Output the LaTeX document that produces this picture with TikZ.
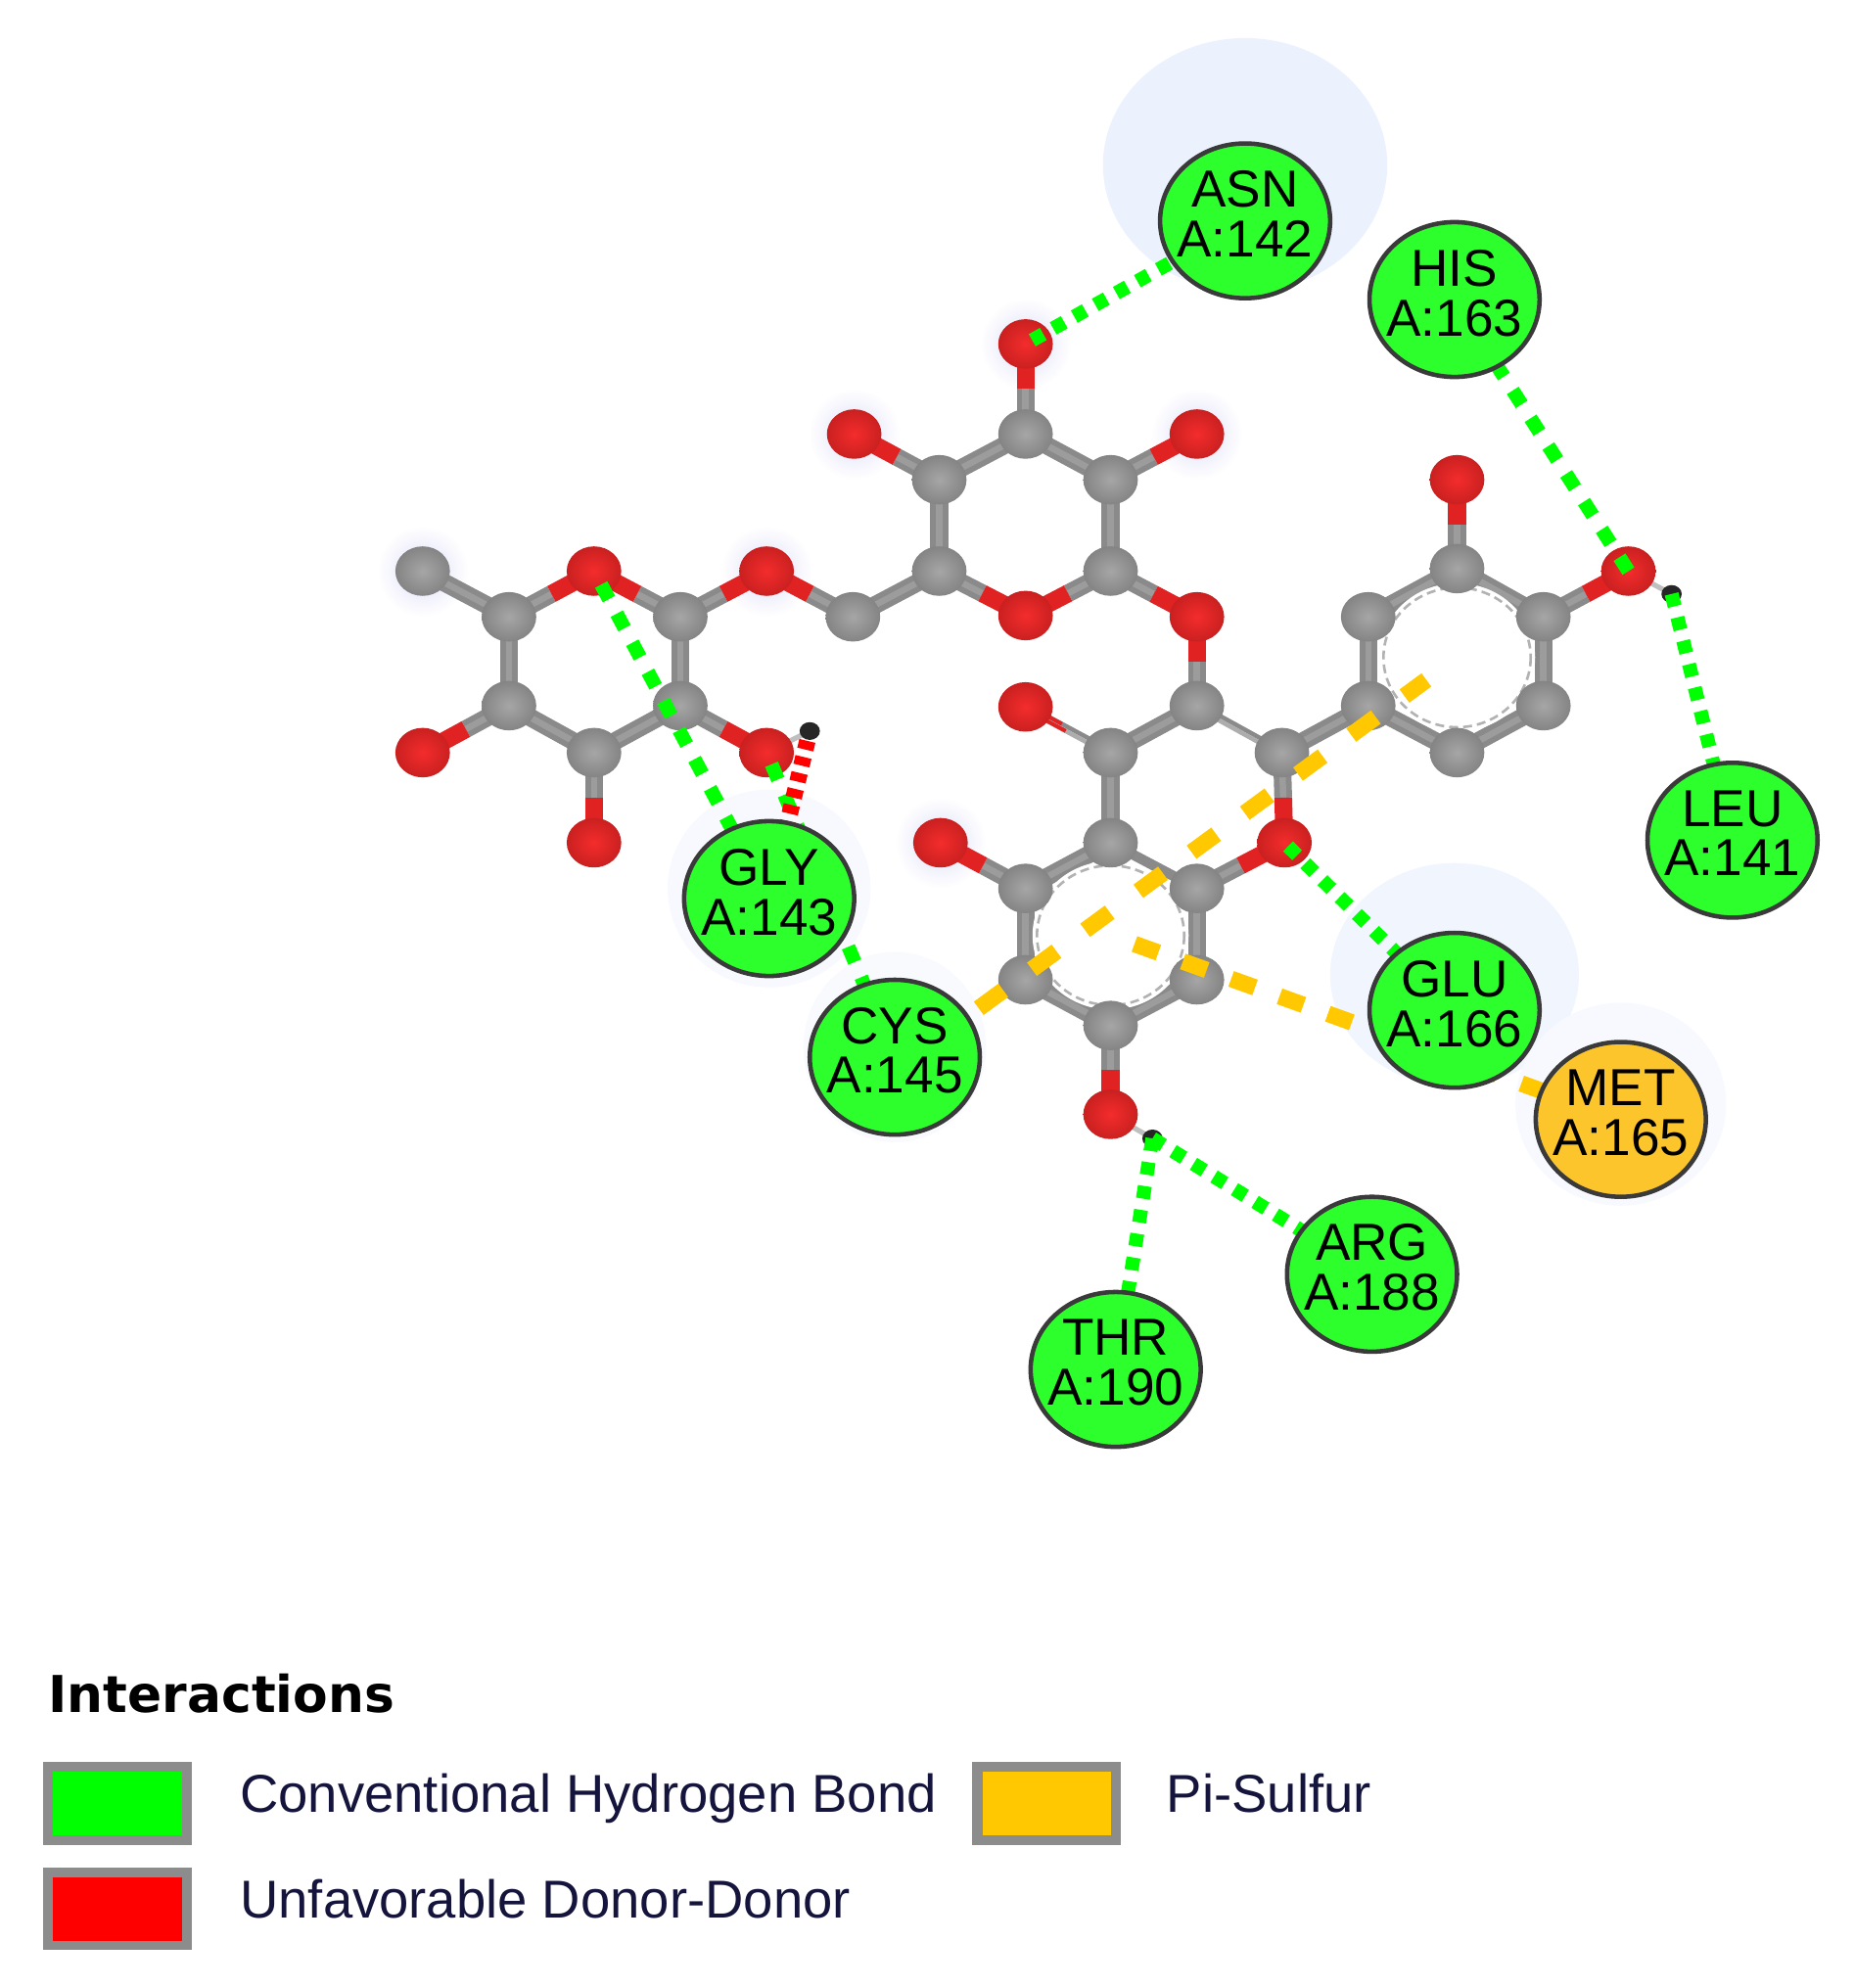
\documentclass[tikz,border=0pt]{standalone}
\usepackage{fontspec}
\setmainfont{Liberation Sans}
\newfontfamily\titlefont{DejaVu Sans}
\usetikzlibrary{shapes.geometric,calc}
\pgfdeclarelayer{halolayer}
\pgfdeclarelayer{bondlayer}
\pgfdeclarelayer{dashlayer}
\pgfdeclarelayer{reslayer}
\pgfsetlayers{halolayer,bondlayer,main,dashlayer,reslayer}
\definecolor{resgreen}{HTML}{2DFF2D}
\definecolor{resgold}{HTML}{FCC52C}
\definecolor{rim}{HTML}{3A3A3A}
\definecolor{bondgrey}{HTML}{8A8A8A}
\definecolor{bondlight}{HTML}{9C9C9C}
\definecolor{bondred}{HTML}{E02222}
\definecolor{legendgrey}{HTML}{8C8C8C}
\definecolor{legendtext}{HTML}{14143C}
\definecolor{hbgreen}{HTML}{00FF00}
\definecolor{sulfur}{HTML}{FFC800}
\definecolor{HTMLgreyA}{HTML}{A6A6A6}
\definecolor{HTMLgreyB}{HTML}{848484}
\definecolor{HTMLredA}{HTML}{F42C2C}
\definecolor{HTMLredB}{HTML}{CA2020}
\definecolor{glowblue}{HTML}{DEDEF8}
\tikzset{
  atomC/.style={ellipse,inner sep=0pt,minimum width=43,minimum height=39,shading=radial,inner color=HTMLgreyA,outer color=HTMLgreyB},
  atomO/.style={ellipse,inner sep=0pt,minimum width=43,minimum height=39,shading=radial,inner color=HTMLredA,outer color=HTMLredB},
  atomH/.style={ellipse,inner sep=0pt,minimum width=16,minimum height=14,fill=black!85},
  residue/.style={ellipse,inner sep=0pt,minimum width=134,minimum height=122,draw=rim,line width=3.5,fill=resgreen,text=black,font=\fontsize{41}{36}\selectfont},
  hbond/.style={draw=hbgreen,line width=11,dash pattern=on 10 off 9},
  hbondwide/.style={draw=hbgreen,line width=11,dash pattern=on 13 off 13},
  ddbond/.style={draw=red,line width=13,dash pattern=on 7 off 6},
  pisbond/.style={draw=sulfur,line width=13,dash pattern=on 24 off 28},
  pisbondb/.style={draw=sulfur,line width=13,dash pattern=on 20 off 20.5},
  glow/.style={circle,inner sep=0pt,minimum size=72,shading=radial,inner color=glowblue,outer color=white},
  ringcircle/.style={draw=white,line width=7},
  ringdash/.style={draw=black!30,line width=2,dash pattern=on 7 off 4},
  legendbox/.style={fill=legendgrey,inner sep=0pt},
  legendfill/.style={inner sep=0pt},
  legendlabel/.style={anchor=base west,inner sep=0pt,text=legendtext,font=\fontsize{42}{42}\selectfont},
}
\newcommand{\reslabel}[2]{\raisebox{1.5pt}{\makebox[0pt]{\begin{tabular}{@{}c@{}}#1\\#2\end{tabular}}}}
\newcommand{\ccbond}[2]{\draw[bondgrey,line width=14] (#1.center) -- (#2.center);\draw[bondlight,line width=5] (#1.center) -- (#2.center);}
\newcommand{\cobond}[2]{%
  \draw[bondgrey,line width=14] (#1.center) -- ($(#1.center)!0.5!(#2.center)$);\draw[bondlight,line width=5] (#1.center) -- ($(#1.center)!0.5!(#2.center)$);%
  \draw[bondred,line width=14] ($(#1.center)!0.5!(#2.center)$) -- (#2.center);}
\newcommand{\dblbond}[2]{\draw[bondgrey,line width=3.5,transform canvas={shift={(-1.5,-2.8)}}] (#1.center) -- (#2.center);\draw[bondgrey!70,line width=3.5,transform canvas={shift={(1.5,2.8)}}] (#1.center) -- (#2.center);}
\begin{document}
\begin{tikzpicture}[x=1pt,y=-1pt]
\useasboundingbox (0,0) rectangle (1460,1566.4);
% halos
\begin{pgfonlayer}{halolayer}
\node[ellipse,minimum width=224,minimum height=200,fill={rgb,255:red,235;green,241;blue,253}] (haloASN) at (981,130) {};
\node[ellipse,minimum width=196,minimum height=176,fill={rgb,255:red,240;green,245;blue,254}] (haloGLU) at (1146,768) {};
\node[ellipse,minimum width=166,minimum height=160,fill={rgb,255:red,247;green,249;blue,254}] (haloMET) at (1277,870) {};
\node[ellipse,minimum width=160,minimum height=156,fill={rgb,255:red,247;green,249;blue,254}] (haloGLY) at (606,700) {};
\node[ellipse,minimum width=144,minimum height=150,fill={rgb,255:red,249;green,250;blue,254}] (haloCYS) at (705,825) {};
\node[glow] (g1) at (673,342) {};
\node[glow] (g2) at (943,342) {};
\node[glow] (g3) at (333,450) {};
\node[glow] (g4) at (741,664) {};
\node[glow] (g5) at (808,271) {};
\node[glow] (g6) at (604,450) {};
\end{pgfonlayer}
% atoms
\foreach \n/\x/\y in {ca/333/450,cb/401/486,cc/536/486,cd/672/486,ce/740/450,cf/875/450,cg/875/378,ch/808/342,ci/740/378,
  cj/401/556,ck/468/593,cl/536/556,
  cm/943/556,cn/875/593,co/1010/593,cp/875/664,cq/943/700,cr/808/700,cs/808/772,ct/943/772,cu/875/808,
  cv/1078/556,cw/1078/486,cx/1148/448,cy/1216/486,cz/1216/556,da/1148/593}
  {\node[atomC] (\n) at (\x,\y) {};}
\foreach \n/\x/\y in {oa/468/450,ob/604/450,oc/808/485,od/808/271,oe/673/342,of/943/342,og/333/593,oh/468/664,oi/604/593,
  oj/943/486,ok/808/557,ol/1012/664,om/741/664,on/875/878,oo/1148/378,op/1283/450}
  {\node[atomO] (\n) at (\x,\y) {};}
\node[atomH] (ha) at (638,576) {};
\node[atomH] (hb) at (908,897) {};
\node[atomH] (hc) at (1317,468) {};
% bonds
\begin{pgfonlayer}{bondlayer}
\ccbond{cb}{ca}\ccbond{cb}{cj}\ccbond{cj}{ck}\ccbond{ck}{cl}\ccbond{cl}{cc}
\cobond{cb}{oa}\cobond{cc}{oa}\cobond{cc}{ob}\cobond{cd}{ob}\ccbond{cd}{ce}
\ccbond{ce}{ci}\ccbond{ci}{ch}\ccbond{ch}{cg}\ccbond{cg}{cf}\cobond{ce}{oc}\cobond{cf}{oc}
\cobond{ch}{od}\cobond{ci}{oe}\cobond{cg}{of}\cobond{cf}{oj}\cobond{cm}{oj}
\cobond{cj}{og}\cobond{ck}{oh}\cobond{cl}{oi}
\draw[black!25,line width=4] (oi.center) -- (ha.center);
\ccbond{cn}{cm}\dblbond{cm}{co}\ccbond{co}{cv}\ccbond{cn}{cp}
\dblbond{cn}{ok}
\draw[bondred,line width=3,transform canvas={shift={(-1.5,-2.8)}}] ($(cn.center)!0.55!(ok.center)$) -- (ok.center);
\draw[bondred,line width=3,transform canvas={shift={(1.5,2.8)}}] ($(cn.center)!0.55!(ok.center)$) -- (ok.center);
\cobond{co}{ol}\cobond{cq}{ol}
\draw[bondgrey,line width=8] (cp.center) -- (cq.center);
\ccbond{cp}{cr}\ccbond{cr}{cs}\ccbond{cs}{cu}\ccbond{cu}{ct}\ccbond{ct}{cq}
\cobond{cr}{om}\cobond{cu}{on}
\draw[black!25,line width=4] (on.center) -- (hb.center);
\ccbond{cv}{cw}\ccbond{cw}{cx}\ccbond{cx}{cy}\ccbond{cy}{cz}\ccbond{cz}{da}\ccbond{da}{cv}
\cobond{cx}{oo}\cobond{cy}{op}
\draw[black!25,line width=4] (op.center) -- (hc.center);
% aromatic rings
\coordinate (ringA) at (875,737);
\coordinate (ringB) at (1148,518);
\draw[ringcircle] (ringA) ellipse [x radius=58,y radius=55];
\draw[ringdash] (ringA) ellipse [x radius=58,y radius=55];
\draw[ringcircle] (ringB) ellipse [x radius=58,y radius=55];
\draw[ringdash] (ringB) ellipse [x radius=58,y radius=55];
\end{pgfonlayer}
% residues
\begin{pgfonlayer}{reslayer}
\node[residue] (ASN) at (981,174) {\reslabel{ASN}{A:142}};
\node[residue] (HIS) at (1146,236) {\reslabel{HIS}{A:163}};
\node[residue] (LEU) at (1365,662) {\reslabel{LEU}{A:141}};
\node[residue] (GLY) at (606,708) {\reslabel{GLY}{A:143}};
\node[residue] (CYS) at (705,833) {\reslabel{CYS}{A:145}};
\node[residue] (GLU) at (1146,796) {\reslabel{GLU}{A:166}};
\node[residue,fill=resgold] (MET) at (1277,882) {\reslabel{MET}{A:165}};
\node[residue] (ARG) at (1081,1004) {\reslabel{ARG}{A:188}};
\node[residue] (THR) at (879,1079) {\reslabel{THR}{A:190}};
\end{pgfonlayer}
% interactions
\coordinate (cysS) at (705,843);
\begin{pgfonlayer}{dashlayer}
\draw[hbond,shorten <=6] (od.center) -- (ASN.center);
\draw[hbondwide] (op.center) -- (HIS.center);
\draw[hbond] (hc.center) -- (LEU.center);
\draw[hbondwide,shorten <=12] (oa.center) -- (GLY.center);
\draw[hbondwide,shorten <=10] (oi.center) -- (CYS.center);
\draw[ddbond,shorten <=8] (ha.center) -- (GLY.center);
\draw[hbond,shorten <=4] (ol.center) -- (GLU.center);
\draw[hbond] (hb.center) -- (THR.center);
\draw[hbond] (hb.center) -- (ARG.center);
\draw[pisbond,dash phase=22,shorten >=30] (cysS) -- (ringB);
\draw[pisbondb,shorten <=20] (ringA) -- (MET.center);
\end{pgfonlayer}
% legend
\node[anchor=base west,inner sep=0pt,text=black,font=\titlefont\bfseries\fontsize{40}{40}\selectfont] (title) at (38,1349) {Interactions};
\node[legendbox,minimum width=117,minimum height=66] (boxg) at (92.5,1421) {};
\node[legendfill,fill=hbgreen,minimum width=102,minimum height=50] (fillg) at (92.5,1421) {};
\node[legendlabel] (lblg) at (189,1428) {Conventional Hydrogen Bond};
\node[legendbox,minimum width=117,minimum height=65] (boxy) at (824.5,1421) {};
\node[legendfill,fill=sulfur,minimum width=101,minimum height=50] (filly) at (824.5,1421) {};
\node[legendlabel] (lbly) at (919,1428) {Pi-Sulfur};
\node[legendbox,minimum width=117,minimum height=65] (boxr) at (92.5,1504) {};
\node[legendfill,fill=red,minimum width=102,minimum height=50] (fillr) at (92.5,1504) {};
\node[legendlabel] (lblr) at (189,1511) {Unfavorable Donor-Donor};
\end{tikzpicture}
\end{document}
